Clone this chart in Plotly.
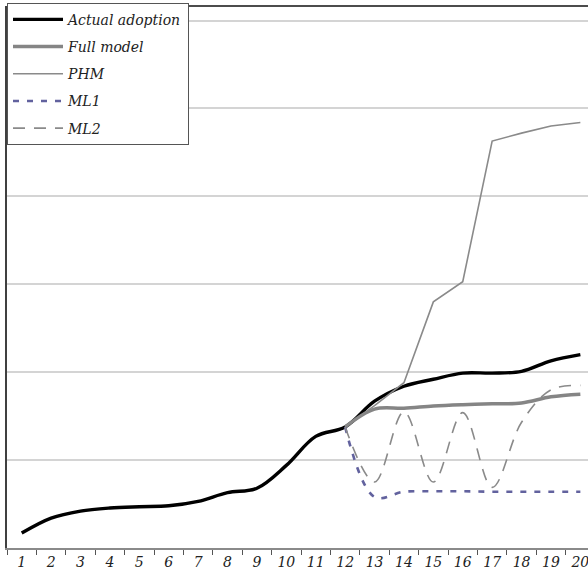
import plotly.graph_objects as go

periods = [str(i) for i in range(1, 21)]

actual_adoption = [0.17, 0.34, 0.42, 0.455, 0.47, 0.48, 0.53, 0.63, 0.68, 0.94,
                   1.27, 1.377, 1.67, 1.84, 1.92, 1.99, 1.99, 2.01, 2.13, 2.20]

model_periods = [str(i) for i in range(12, 21)]
full_model = [1.377, 1.58, 1.59, 1.615, 1.63, 1.64, 1.65, 1.72, 1.75]
phm = [1.377, 1.62, 1.88, 2.80, 3.03, 4.63, 4.72, 4.80, 4.84]
ml1 = [1.377, 0.58, 0.64, 0.645, 0.645, 0.64, 0.64, 0.64, 0.64]
ml2 = [1.377, 0.75, 1.55, 0.75, 1.54, 0.69, 1.43, 1.80, 1.85]

serif = "DejaVu Serif"

fig = go.Figure()
fig.add_trace(go.Scatter(x=periods, y=actual_adoption, name="Actual adoption",
                         mode="lines", line=dict(color="#000000", width=3.4, shape="spline"),
                         legendgroup="a"))
fig.add_trace(go.Scatter(x=model_periods, y=full_model, name="Full model",
                         mode="lines", line=dict(color="#858585", width=3.5, shape="spline"),
                         legendgroup="b"))
fig.add_trace(go.Scatter(x=model_periods, y=phm, name="PHM",
                         mode="lines", line=dict(color="#8a8a8a", width=1.6),
                         legendgroup="c"))
fig.add_trace(go.Scatter(x=model_periods, y=ml1, name="ML1",
                         mode="lines", line=dict(color="#62629e", width=2.6, dash="6px,8px", shape="spline"),
                         legendgroup="d"))
fig.add_trace(go.Scatter(x=model_periods, y=ml2, name="ML2",
                         mode="lines", line=dict(color="#8a8a8a", width=1.6, dash="12px,9px", shape="spline"),
                         legendgroup="e"))

fig.update_layout(
    width=588, height=577,
    margin=dict(l=7, r=0, t=6, b=29),
    paper_bgcolor="white", plot_bgcolor="white",
    showlegend=True,
    legend=dict(x=0, y=1.006, xanchor="left", yanchor="top",
                bgcolor="white", bordercolor="#555555", borderwidth=1,
                font=dict(family=serif, size=14, color="#222222", style="italic"),
                traceorder="grouped", tracegroupgap=6,
                itemwidth=50),
    xaxis=dict(type="category", categoryorder="array", categoryarray=periods,
               range=[-0.5, 19.26], tickson="boundaries", ticks="outside",
               ticklen=5, tickcolor="#555555", tickwidth=1,
               showline=True, linecolor="#8a8a8a", linewidth=1.5,
               showgrid=False, zeroline=False,
               tickfont=dict(family=serif, size=14, color="#222222", style="italic")),
    yaxis=dict(range=[0, 6.166], dtick=1, tick0=0, showticklabels=False,
               showgrid=True, gridcolor="#d4d4d4", gridwidth=1.5,
               zeroline=False, showline=True, linecolor="#404040", linewidth=2,
               ticks=""),
    shapes=[dict(type="line", xref="paper", yref="paper", x0=0, x1=1, y0=1, y1=1,
                 line=dict(color="#111111", width=1.5))],
)

fig.write_html("out.html",
               config={"displayModeBar": False},
               post_script="document.body.style.margin='0';document.body.style.overflow='hidden';")
